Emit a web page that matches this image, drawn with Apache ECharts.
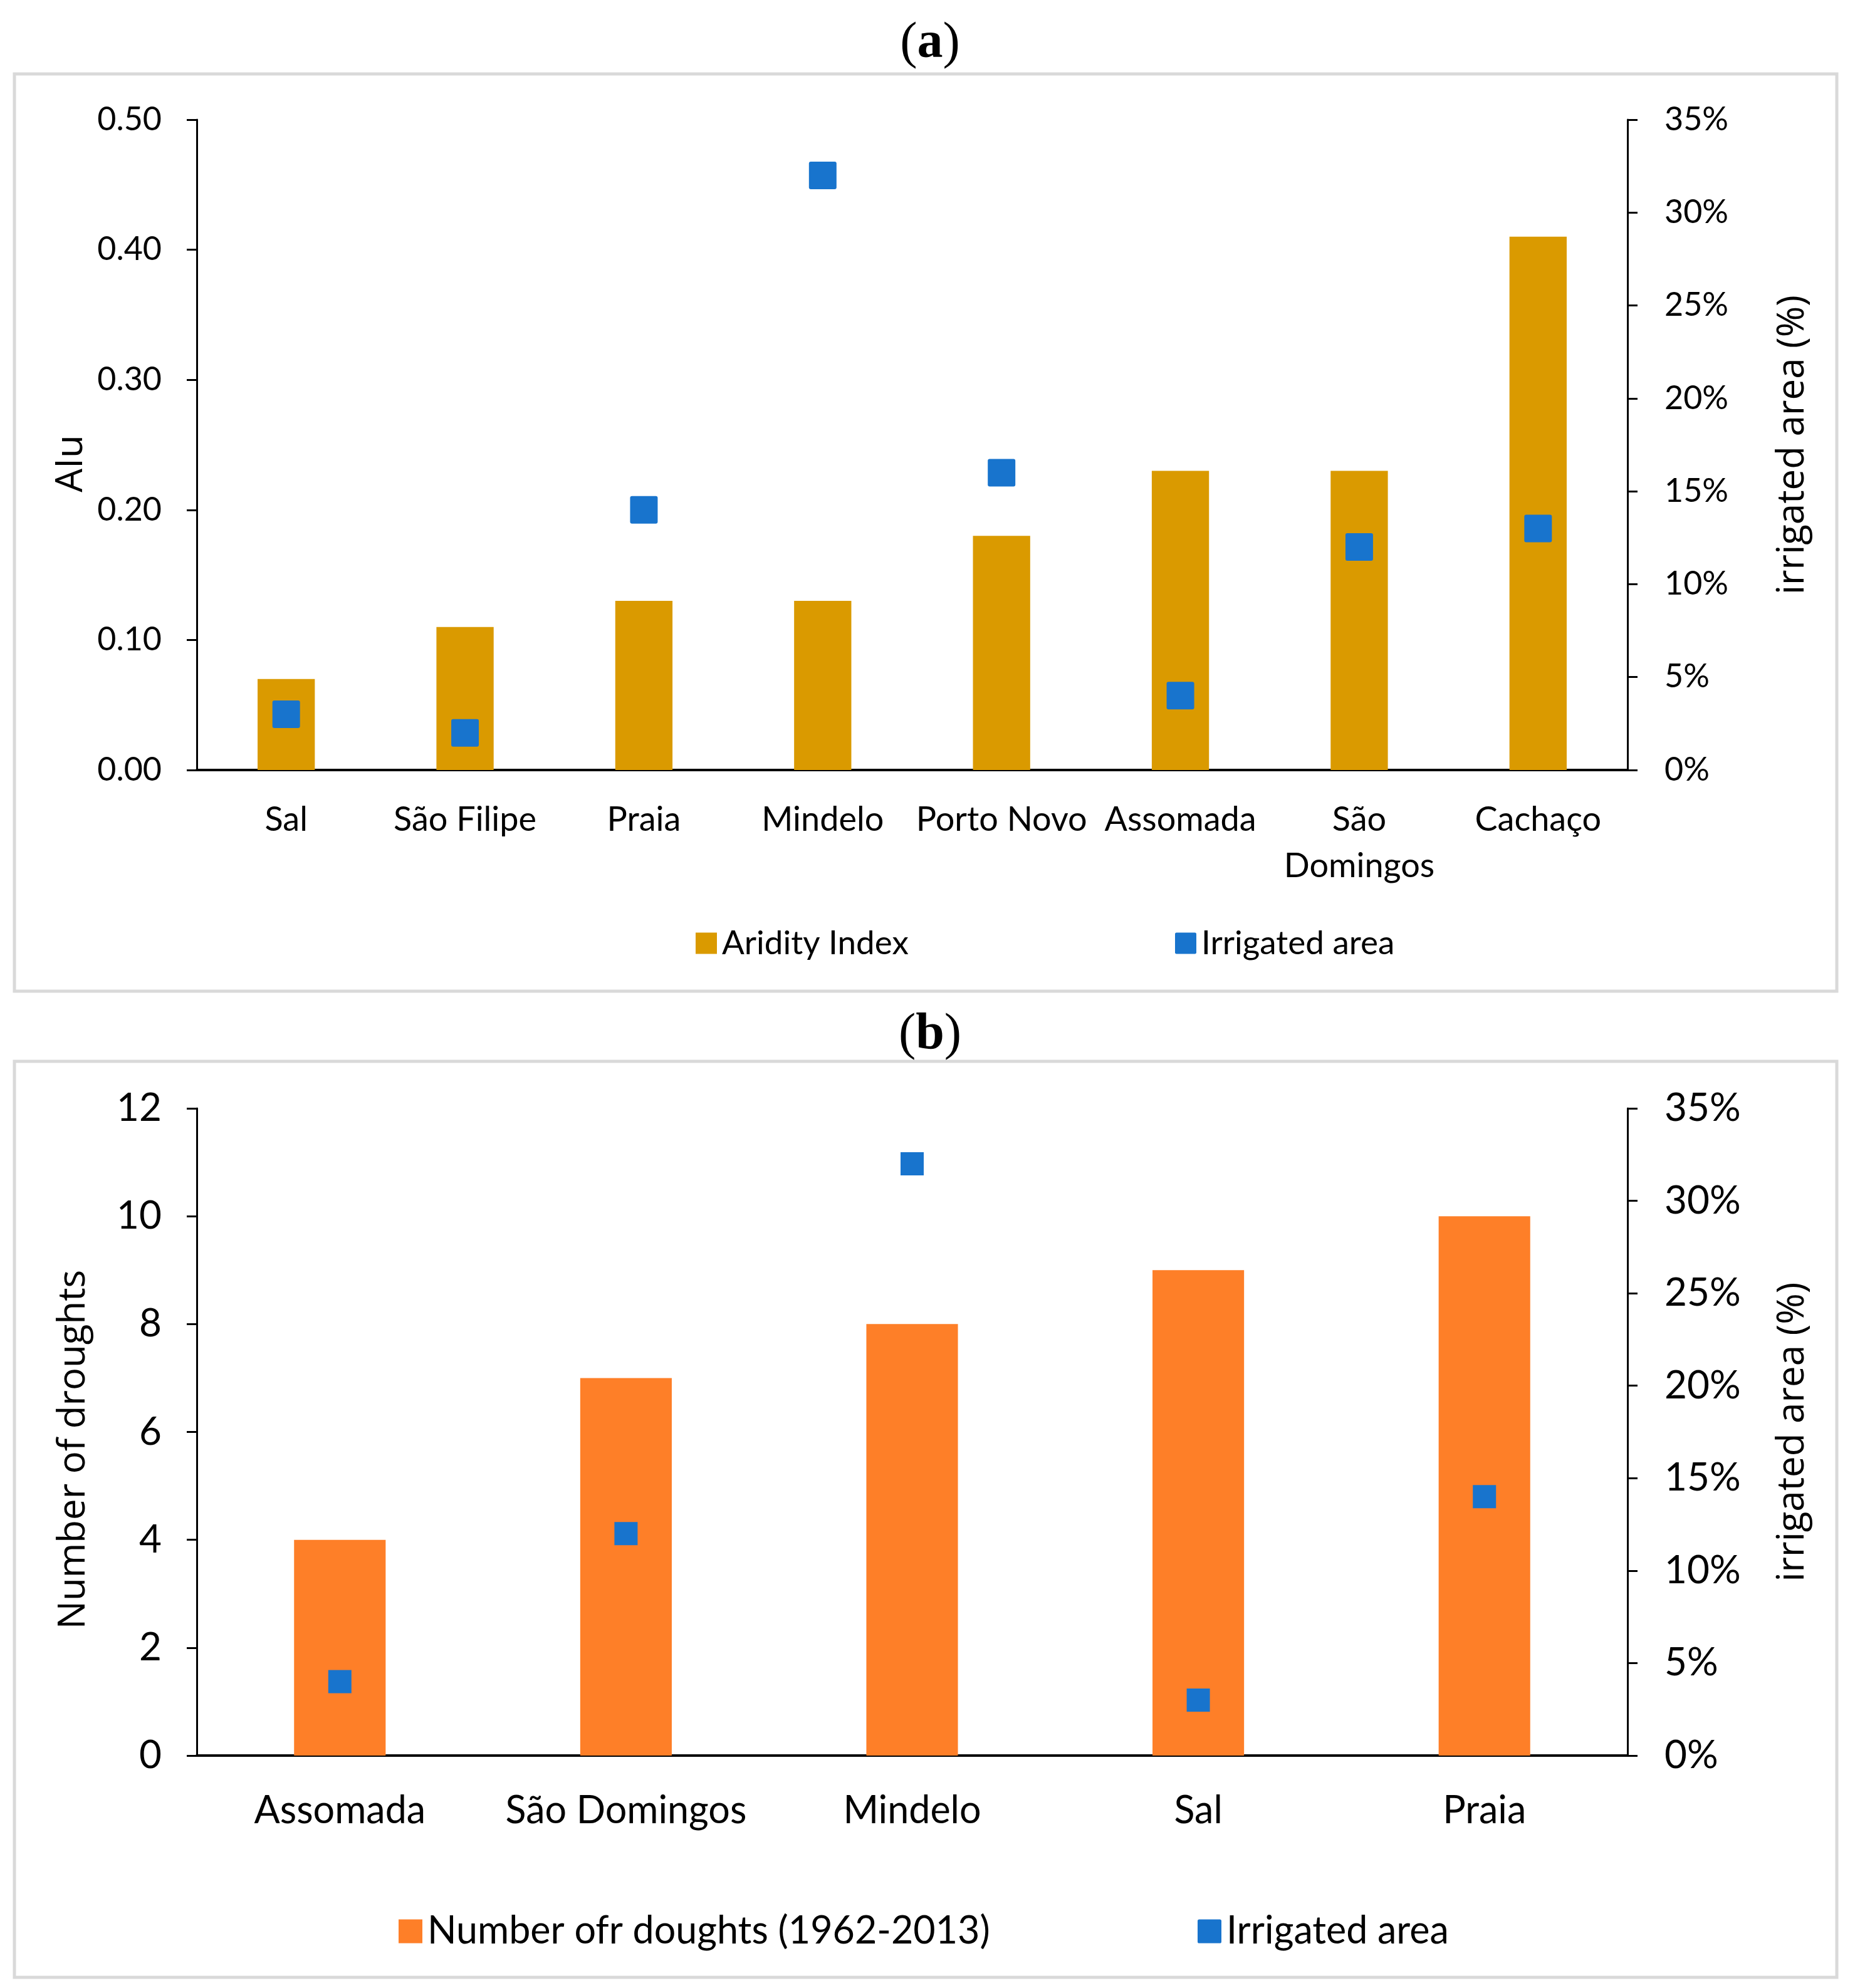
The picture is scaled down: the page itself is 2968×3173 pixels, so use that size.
<!DOCTYPE html>
<html>
<head>
<meta charset="utf-8">
<script src="https://cdn.jsdelivr.net/npm/echarts@6/dist/echarts.min.js"></script>
<style>
html,body{margin:0;padding:0;background:#fff;}
#chart{width:2968px;height:3173px;}
</style>
</head>
<body>
<div id="chart"></div>
<script>
// ---- Panel (a) data ----
var catsA = ['Sal', 'São Filipe', 'Praia', 'Mindelo', 'Porto Novo', 'Assomada', 'São Domingos', 'Cachaço'];
var aridityA = [0.07, 0.11, 0.13, 0.13, 0.18, 0.23, 0.23, 0.41];
var irrigatedA = [3, 2, 14, 32, 16, 4, 12, 13];
var leftTicksA = [0, 0.1, 0.2, 0.3, 0.4, 0.5];
// ---- Panel (b) data ----
var catsB = ['Assomada', 'São Domingos', 'Mindelo', 'Sal', 'Praia'];
var droughtsB = [4, 7, 8, 9, 10];
var irrigatedB = [4, 12, 32, 3, 14];
var leftTicksB = [0, 2, 4, 6, 8, 10, 12];
var rightTicks = [0, 5, 10, 15, 20, 25, 30, 35];

var GOLD = '#DA9A00', ORANGE = '#FE7F28', BLUE = '#1874CD';
var TICKF = 'Lato', TITLEF = 'Open Sans';
var ROUNDSQ = 'path://M3,0H41A3,3,0,0,1,44,3V41A3,3,0,0,1,41,44H3A3,3,0,0,1,0,41V3A3,3,0,0,1,3,0Z';

var chart = echarts.init(document.getElementById('chart'), null, {renderer: 'canvas'});

function yLeft(grid, min, max, interval, fs, fmt, name, namePad) {
  return {
    type: 'value', gridIndex: grid, position: 'left', min: min, max: max, interval: interval,
    axisLine: {show: true, lineStyle: {color: '#000', width: 3}},
    axisTick: {show: true, length: 16, lineStyle: {color: '#000', width: 3}},
    splitLine: {show: false},
    axisLabel: {color: '#000', fontFamily: TICKF, fontSize: fs, margin: 56, formatter: fmt},
    name: name, nameLocation: 'middle', nameGap: 166,
    nameTextStyle: {color: '#000', fontFamily: TITLEF, fontSize: 60, padding: [0, namePad, 0, 0]}
  };
}
function yRight(grid, fs) {
  return {
    type: 'value', gridIndex: grid, position: 'right', min: 0, max: 35, interval: 5,
    axisLine: {show: true, lineStyle: {color: '#000', width: 3}},
    axisTick: {show: true, length: 16, lineStyle: {color: '#000', width: 3}},
    splitLine: {show: false},
    axisLabel: {color: '#000', fontFamily: TICKF, fontSize: fs, margin: 59, formatter: '{value}%'},
    name: 'irrigated area (%)', nameLocation: 'middle', nameGap: 234,
    nameTextStyle: {color: '#000', fontFamily: TITLEF, fontSize: 60}
  };
}
function legendItem(name, left, cy, size, fs, icon) {
  return {
    data: [name], left: left, top: cy - 25, itemWidth: size, itemHeight: size, icon: icon,
    padding: 0, selectedMode: false,
    itemStyle: {opacity: 1},
    textStyle: {color: '#000', fontFamily: TICKF, fontSize: fs, lineHeight: 50, padding: [0, 0, 0, 3]}
  };
}
function panelTitle(letter, top) {
  return {text: '{p|(}{b|' + letter + '}{p|)}', left: 'center', top: top,
    textStyle: {rich: {
      p: {fontFamily: 'Liberation Serif', fontSize: 82, fontWeight: 'normal', color: '#000'},
      b: {fontFamily: 'Liberation Serif', fontSize: 82, fontWeight: 'bold', color: '#000'}}}};
}

var option = {
  animation: false,
  backgroundColor: '#fff',
  title: [panelTitle('a', 24), panelTitle('b', 1606)],
  graphic: [
    {type: 'rect', z: -1, shape: {x: 23, y: 118, width: 2908, height: 1464}, style: {fill: '#fff', stroke: '#D9D9D9', lineWidth: 5}},
    {type: 'rect', z: -1, shape: {x: 23, y: 1694, width: 2908, height: 1462}, style: {fill: '#fff', stroke: '#D9D9D9', lineWidth: 5}}
  ],
  grid: [
    {left: 314, right: 371, top: 191, height: 1038, containLabel: false},
    {left: 314, right: 371, top: 1769, height: 1033, containLabel: false}
  ],
  xAxis: [
    {type: 'category', gridIndex: 0, data: catsA,
     axisLine: {show: true, lineStyle: {color: '#000', width: 4}}, axisTick: {show: false},
     axisLabel: {interval: 0, color: '#000', fontFamily: TICKF, fontSize: 54, lineHeight: 74, margin: 43,
       formatter: function (v) { return v === 'São Domingos' ? 'São\nDomingos' : v; }}},
    {type: 'category', gridIndex: 1, data: catsB,
     axisLine: {show: true, lineStyle: {color: '#000', width: 4}}, axisTick: {show: false},
     axisLabel: {interval: 0, color: '#000', fontFamily: TICKF, fontSize: 61, margin: 58}}
  ],
  yAxis: [
    yLeft(0, 0, 0.5, 0.1, 52, function (v) { return v.toFixed(2); }, 'AIu', 60),
    yRight(0, 52),
    yLeft(1, 0, 12, 2, 62, '{value}', 'Number of droughts', 56),
    yRight(1, 62)
  ],
  legend: [
    legendItem('Aridity Index', 1110, 1504, 34, 53, 'rect'),
    legendItem('Irrigated area', 1875, 1504, 34, 53, ROUNDSQ),
    legendItem('Number ofr doughts (1962-2013)', 636, 3077, 38, 61, 'rect'),
    legendItem('Irrigated area', 1911, 3077, 38, 61, ROUNDSQ)
  ],
  series: [
    {name: 'Aridity Index', type: 'bar', xAxisIndex: 0, yAxisIndex: 0, data: aridityA, barWidth: '32%',
     itemStyle: {color: GOLD}},
    {name: 'Irrigated area', type: 'scatter', xAxisIndex: 0, yAxisIndex: 1, data: irrigatedA,
     symbol: ROUNDSQ, symbolSize: 44, itemStyle: {color: BLUE, opacity: 1}, z: 5},
    {name: 'Number ofr doughts (1962-2013)', type: 'bar', xAxisIndex: 1, yAxisIndex: 2, data: droughtsB, barWidth: '32%',
     itemStyle: {color: ORANGE}},
    {name: 'Irrigated area', type: 'scatter', xAxisIndex: 1, yAxisIndex: 3, data: irrigatedB,
     symbol: 'rect', symbolSize: 37, itemStyle: {color: BLUE, opacity: 1}, z: 5}
  ]
};
chart.setOption(option);
</script>
</body>
</html>
